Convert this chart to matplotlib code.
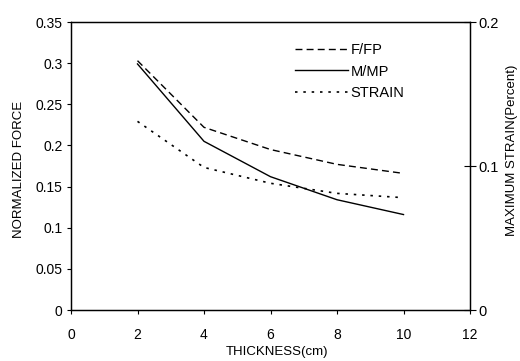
import matplotlib
matplotlib.use("Agg")
import matplotlib.pyplot as plt

plt.rcParams['font.family'] = ['Liberation Sans', 'DejaVu Sans']

thickness = [2, 4, 6, 8, 10]
f_fp = [0.303, 0.222, 0.195, 0.177, 0.166]
m_mp = [0.299, 0.205, 0.162, 0.134, 0.116]
strain = [0.131, 0.099, 0.088, 0.081, 0.078]

xticks = [0, 2, 4, 6, 8, 10, 12]
yticks = [0, 0.05, 0.1, 0.15, 0.2, 0.25, 0.3, 0.35]
ytick_labels = ['0', '0.05', '0.1', '0.15', '0.2', '0.25', '0.3', '0.35']
y2ticks = [0, 0.1, 0.2]

W, H = 520, 361
fig = plt.figure(figsize=(5.2, 3.61), dpi=100)
ax = fig.add_axes([71 / W, 1 - 310 / H, 399 / W, 288 / H])
ax2 = ax.twinx()

l1, = ax.plot(thickness, f_fp, color='black', lw=1.0, ls=(0, (5, 3)), label='F/FP')
l2, = ax.plot(thickness, m_mp, color='black', lw=1.0, ls='-', label='M/MP')
l3, = ax2.plot(thickness, strain, color='black', lw=1.2, ls=(0, (1.5, 3.5)), label='STRAIN')

ax.set_xlim(0, 12)
ax.set_ylim(0, 0.35)
ax2.set_ylim(0, 0.2)
ax.set_xticks(xticks)
ax.set_xticklabels([str(t) for t in xticks], fontsize=10)
ax.set_yticks(yticks)
ax.set_yticklabels(ytick_labels, fontsize=10)
ax2.set_yticks(y2ticks)
ax2.set_yticklabels(['0', '0.1', '0.2'], fontsize=10.5)

ax.tick_params(axis='x', direction='out', length=3, width=0.8, pad=10)
ax.tick_params(axis='y', direction='out', length=3, width=0.8, pad=3)
ax2.tick_params(axis='y', direction='inout', length=8, width=0.8, pad=2)

for a in (ax, ax2):
    for s in a.spines.values():
        s.set_linewidth(0.9)

fig.text(277 / W, 1 - 352 / H, 'THICKNESS(cm)', fontsize=9.5, ha='center', va='center')
fig.text(19 / W, 1 - 169 / H, 'NORMALIZED FORCE', fontsize=9.5, rotation=90,
         ha='center', va='center')
fig.text(512 / W, 1 - 150 / H, 'MAXIMUM STRAIN(Percent)', fontsize=9.5, rotation=90,
         ha='center', va='center')

leg = fig.legend(handles=[l1, l2, l3], loc='upper left',
                 bbox_to_anchor=(295 / W, 1 - 43 / H), bbox_transform=fig.transFigure,
                 frameon=False, fontsize=10.5, handlelength=3.6, handletextpad=0.2,
                 labelspacing=0.52, borderpad=0, borderaxespad=0)

fig.savefig('out.png', dpi=100)
